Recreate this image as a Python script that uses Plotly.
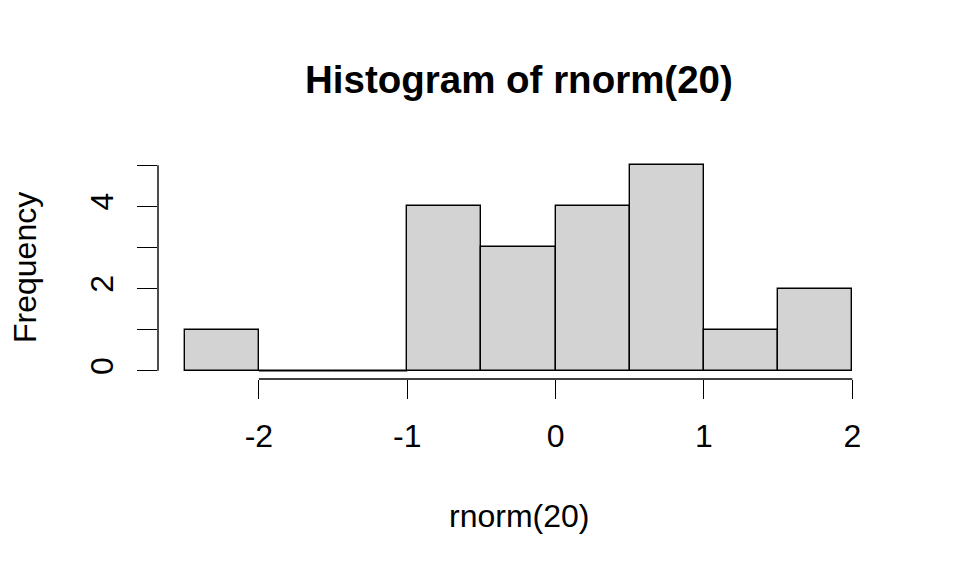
import plotly.graph_objects as go

# Data
bin_edges = [-2.5, -2.0, -1.5, -1.0, -0.5, 0.0, 0.5, 1.0, 1.5, 2.0]
counts = [1, 0, 0, 4, 3, 4, 5, 1, 2]
x_ticks = [-2, -1, 0, 1, 2]
x_ticktext = ["-2", "-1", "0", "1", "2"]
y_ticks = [0, 1, 2, 3, 4, 5]
y_ticktext = ["0", "", "2", "", "4", ""]
title = "Histogram of rnorm(20)"
x_label = "rnorm(20)"
y_label = "Frequency"

FONT = "Liberation Sans, Arial, Helvetica, sans-serif"
LW = 1.4
BASE = 32
TITLE = 38.5

mids = [(bin_edges[i] + bin_edges[i + 1]) / 2 for i in range(len(counts))]
widths = [bin_edges[i + 1] - bin_edges[i] for i in range(len(counts))]

fig = go.Figure()
fig.add_trace(go.Bar(
    x=mids, y=counts, width=widths,
    marker=dict(color="#D3D3D3", line=dict(color="black", width=LW)),
    hoverinfo="skip",
))
# zero-count bins are drawn in R as flat outlines on the baseline
for i, c in enumerate(counts):
    if c == 0:
        fig.add_trace(go.Scatter(
            x=[bin_edges[i], bin_edges[i + 1]], y=[0, 0], mode="lines",
            line=dict(color="black", width=LW), hoverinfo="skip"))

xmin, xmax = bin_edges[0], bin_edges[-1]
xpad = (xmax - xmin) * 0.04
ymax = max(counts)
ypad = ymax * 0.04

# the page body adds an 8px offset, so the figure is 8px smaller
fig.update_layout(
    width=952, height=568,
    margin=dict(l=150, r=81, t=149, b=197),
    paper_bgcolor="white", plot_bgcolor="white",
    showlegend=False,
    bargap=0,
    font=dict(family=FONT, size=BASE, color="black"),
    xaxis=dict(
        range=[xmin - xpad, xmax + xpad], showgrid=False, zeroline=False,
        showline=False, tickmode="array", tickvals=x_ticks, ticktext=x_ticktext,
        ticks="outside", ticklen=19, tickwidth=LW, tickcolor="black",
        ticklabelstandoff=10,
    ),
    yaxis=dict(
        range=[-ypad, ymax + ypad], showgrid=False, zeroline=False,
        showline=False, tickmode="array", tickvals=y_ticks, ticktext=y_ticktext,
        ticks="outside", ticklen=20, tickwidth=LW, tickcolor="black",
        tickangle=-90, ticklabelstandoff=11,
    ),
    shapes=[
        dict(type="line", xref="x", yref="paper", x0=x_ticks[0], x1=x_ticks[-1],
             y0=0, y1=0, line=dict(color="black", width=LW)),
        dict(type="line", xref="paper", yref="y", x0=0, x1=0,
             y0=y_ticks[0], y1=y_ticks[-1], line=dict(color="black", width=LW)),
    ],
    annotations=[
        dict(text="<b>" + title + "</b>", xref="paper", yref="paper",
             x=0.5, y=1, yshift=157 - 79, yanchor="middle", xanchor="center",
             showarrow=False, font=dict(size=TITLE)),
        dict(text=x_label, xref="paper", yref="paper", x=0.5, y=0,
             yshift=-(516 - 379), yanchor="middle", showarrow=False),
        dict(text=y_label, xref="paper", yref="paper", x=0, y=0.5,
             xshift=-(158 - 25), xanchor="center", yanchor="middle",
             textangle=-90, showarrow=False),
    ],
)

fig.write_html("out.html")
